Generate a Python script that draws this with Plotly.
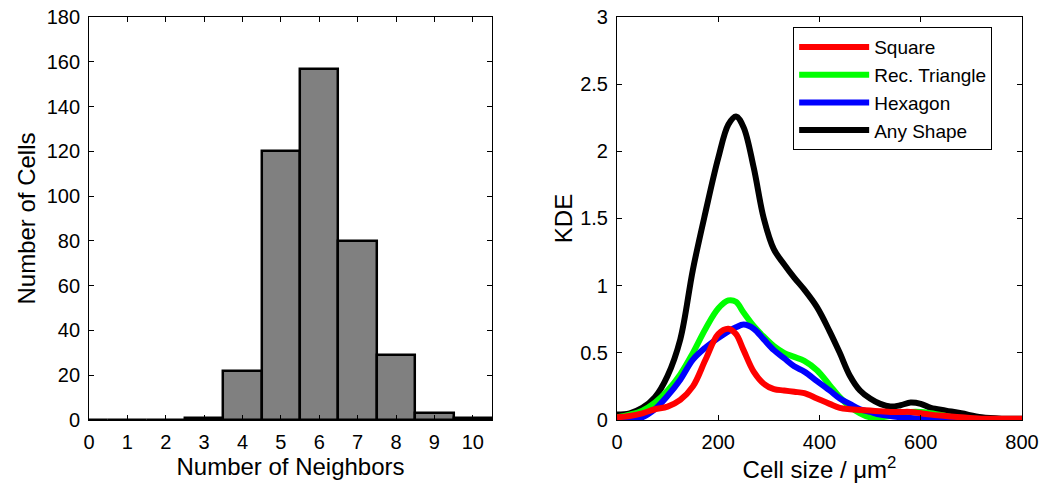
import plotly.graph_objects as go
from plotly.subplots import make_subplots

# Histogram data
neighbors = [0, 1, 2, 3, 4, 5, 6, 7, 8, 9, 10]
cell_counts = [0, 0, 0, 1, 22, 120, 157, 80, 29, 3, 1]

# KDE curves
kde_x = [0, 25, 50, 75, 100, 125, 150, 175, 200, 220, 235, 250, 270, 290, 310, 330,
         350, 370, 395, 420, 440, 460, 480, 500, 520, 540, 560, 580, 600, 620, 650,
         680, 720, 760, 800]
any_shape = [0.04, 0.05, 0.09, 0.17, 0.33, 0.60, 1.12, 1.55, 1.95, 2.20, 2.26, 2.18,
             1.88, 1.50, 1.27, 1.16, 1.06, 0.97, 0.84, 0.66, 0.50, 0.33, 0.22, 0.16,
             0.12, 0.10, 0.11, 0.13, 0.12, 0.09, 0.07, 0.05, 0.02, 0.01, 0.01]
square = [0.02, 0.03, 0.05, 0.08, 0.10, 0.15, 0.25, 0.45, 0.64, 0.68, 0.64, 0.52,
          0.36, 0.27, 0.23, 0.22, 0.21, 0.20, 0.16, 0.12, 0.09, 0.08, 0.075, 0.07,
          0.065, 0.06, 0.06, 0.06, 0.05, 0.04, 0.03, 0.02, 0.01, 0.01, 0.01]
rec_triangle = [0.02, 0.04, 0.07, 0.13, 0.22, 0.34, 0.50, 0.68, 0.83, 0.89, 0.88, 0.80,
                0.70, 0.62, 0.55, 0.50, 0.47, 0.44, 0.37, 0.26, 0.17, 0.10, 0.05, 0.02,
                0.02, 0.03, 0.05, 0.06, 0.06, 0.05, 0.03, 0.01, 0.0, 0.0, 0.0]
hexagon = [0.0, 0.0, 0.02, 0.08, 0.18, 0.30, 0.45, 0.54, 0.61, 0.66, 0.69, 0.71,
           0.68, 0.60, 0.52, 0.46, 0.40, 0.36, 0.29, 0.22, 0.16, 0.12, 0.08, 0.06,
           0.04, 0.03, 0.02, 0.015, 0.01, 0.0, 0.0, 0.0, 0.0, 0.0, 0.0]

series = [("Square", square, "#ff0000"),
          ("Rec. Triangle", rec_triangle, "#00ff00"),
          ("Hexagon", hexagon, "#0000ff"),
          ("Any Shape", any_shape, "#000000")]

fig = make_subplots(rows=1, cols=2)

fig.add_trace(go.Bar(x=neighbors, y=cell_counts, width=1,
                     marker=dict(color="#808080", line=dict(color="black", width=2.5)),
                     showlegend=False), row=1, col=1)

order = [3, 1, 2, 0]
for i in order:
    name, ys, col = series[i]
    fig.add_trace(go.Scatter(x=kde_x, y=ys, mode="lines", name=name,
                             line=dict(color=col, width=6, shape="spline", smoothing=1.0),
                             legendrank=i + 1),
                  row=1, col=2)

FAM = "Liberation Sans, Arial, sans-serif"
tick_font = dict(family=FAM, size=20, color="black")
title_font = dict(family=FAM, size=24, color="black")
axis_common = dict(showline=True, linecolor="black", linewidth=1, mirror="allticks",
                   ticks="inside", ticklen=5, tickcolor="black", showgrid=False,
                   zeroline=False, tickfont=tick_font, title_font=title_font,
                   automargin=False)

fig.update_xaxes(**axis_common, ticklabelstandoff=4)
fig.update_yaxes(**axis_common, ticklabelstandoff=4)

fig.update_xaxes(domain=[0.0852, 0.4708], range=[0, 10.5], dtick=1, tick0=0,
                 title_text="Number of Neighbors", title_standoff=4, row=1, col=1)
fig.update_yaxes(domain=[0.1498, 0.9656], range=[0, 180], dtick=20,
                 title_text="Number of Cells", title_standoff=4, row=1, col=1)
fig.update_xaxes(domain=[0.5904, 0.978], range=[0, 800], dtick=200,
                 title_text="Cell size / μm<sup>2</sup>", title_standoff=4, row=1, col=2)
fig.update_yaxes(domain=[0.1498, 0.9656], range=[0, 3], dtick=0.5,
                 title_text="KDE", title_standoff=0, row=1, col=2)

fig.update_layout(
    width=1045, height=494,
    margin=dict(l=0, r=0, t=0, b=0, autoexpand=False),
    paper_bgcolor="white", plot_bgcolor="white",
    font=tick_font, bargap=0,
    legend=dict(x=0.759, y=0.945, xanchor="left", yanchor="top",
                bgcolor="white", bordercolor="black", borderwidth=1,
                font=dict(family=FAM, size=19, color="black"),
                tracegroupgap=0, itemwidth=70, traceorder="normal"),
)

fig.write_html("out.html")
